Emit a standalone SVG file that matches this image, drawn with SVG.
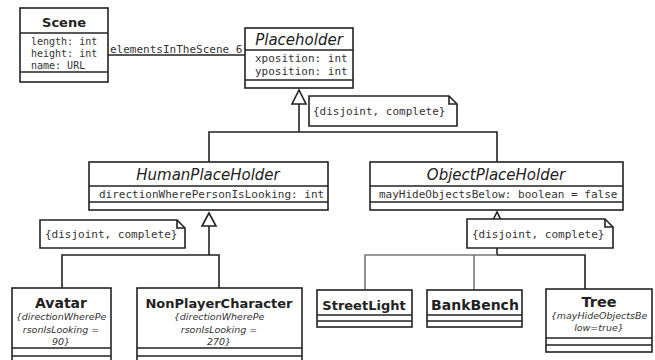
<svg xmlns="http://www.w3.org/2000/svg" width="655" height="360" viewBox="0 0 655 360">
<style>
.box{fill:#fff;stroke:#222;stroke-width:1.6}
.ln{fill:none;stroke:#222;stroke-width:1.6}
.lg{fill:none;stroke:#777;stroke-width:1.6}
.tri{fill:#fff;stroke:#222;stroke-width:1.6}
.name{font-family:"DejaVu Sans",sans-serif;font-weight:bold;font-size:13px;fill:#222;text-anchor:middle}
.abs{font-family:"DejaVu Sans",sans-serif;font-style:italic;font-size:15px;fill:#222;text-anchor:middle}
.attr{font-family:"DejaVu Sans Mono",monospace;font-size:11px;fill:#333}
.sattr{font-family:"DejaVu Sans Mono",monospace;font-size:10px;fill:#333}
.con{font-family:"DejaVu Sans",sans-serif;font-style:italic;font-size:9.5px;fill:#333;text-anchor:middle}
</style>
<rect width="655" height="360" fill="#fff"/>
<g id="connectors">
  <line class="ln" x1="108" y1="55" x2="245" y2="55"/>
  <text class="attr" x="110" y="53">elementsInTheScene 6</text>
  <polyline class="ln" points="299,104 299,132"/>
  <polyline class="ln" points="209,162 209,132 497,132 497,162"/>
  <polygon class="tri" points="299,90 292,104 306,104"/>
  <polyline class="ln" points="209,226 209,255"/>
  <polyline class="ln" points="62,288 62,255 219,255 219,288"/>
  <polygon class="tri" points="209,213 202,226 216,226"/>
  <polygon class="tri" points="497,212 490,226 504,226"/>
  <polyline class="ln" points="497,248 497,255"/>
  <polyline class="lg" points="365,290 365,255 497,255"/>
  <polyline class="lg" points="474,290 474,255"/>
  <polyline class="ln" points="497,255 585,255 585,289"/>
</g>
<g id="note1">
  <path class="box" d="M309,96 H449 L457,104 V126 H309 Z"/>
  <path class="ln" d="M449,96 V104 H457"/>
  <text class="attr" x="313" y="115">{disjoint, complete}</text>
</g>
<g id="note2">
  <path class="box" d="M40,220 H177 L185,228 V248 H40 Z"/>
  <path class="ln" d="M177,220 V228 H185"/>
  <text class="attr" x="45" y="238">{disjoint, complete}</text>
</g>
<g id="note3">
  <path class="box" d="M467,219 H605 L613,227 V248 H467 Z"/>
  <path class="ln" d="M605,219 V227 H613"/>
  <text class="attr" x="472" y="238">{disjoint, complete}</text>
</g>
<g id="Scene">
  <rect class="box" x="20" y="8" width="88" height="74"/>
  <line class="ln" x1="20" y1="33" x2="108" y2="33"/>
  <line class="ln" x1="20" y1="72" x2="108" y2="72"/>
  <text class="name" x="64" y="27">Scene</text>
  <text class="sattr" x="31" y="45">length: int</text>
  <text class="sattr" x="31" y="57">height: int</text>
  <text class="sattr" x="31" y="69">name: URL</text>
</g>
<g id="Placeholder">
  <rect class="box" x="245" y="28" width="108" height="60"/>
  <line class="ln" x1="245" y1="50" x2="353" y2="50"/>
  <line class="ln" x1="245" y1="80" x2="353" y2="80"/>
  <text class="abs" x="299" y="45">Placeholder</text>
  <text class="attr" x="255" y="62">xposition: int</text>
  <text class="attr" x="255" y="75">yposition: int</text>
</g>
<g id="HumanPlaceHolder">
  <rect class="box" x="89" y="162" width="239" height="48"/>
  <line class="ln" x1="89" y1="186" x2="328" y2="186"/>
  <line class="ln" x1="89" y1="202" x2="328" y2="202"/>
  <text class="abs" x="208" y="180">HumanPlaceHolder</text>
  <text class="attr" x="99" y="198">directionWherePersonIsLooking: int</text>
</g>
<g id="ObjectPlaceHolder">
  <rect class="box" x="370" y="162" width="253" height="48"/>
  <line class="ln" x1="370" y1="186" x2="623" y2="186"/>
  <line class="ln" x1="370" y1="202" x2="623" y2="202"/>
  <text class="abs" x="496" y="180">ObjectPlaceHolder</text>
  <text class="attr" x="379" y="198">mayHideObjectsBelow: boolean = false</text>
</g>
<g id="Avatar">
  <rect class="box" x="12" y="288" width="99" height="90"/>
  <line class="ln" x1="12" y1="348" x2="111" y2="348"/>
  <line class="ln" x1="12" y1="356" x2="111" y2="356"/>
  <text class="name" style="font-size:14px" x="61" y="308">Avatar</text>
  <text class="con" x="61" y="320">{directionWherePe</text>
  <text class="con" x="61" y="333">rsonIsLooking =</text>
  <text class="con" x="61" y="345">90}</text>
</g>
<g id="NonPlayerCharacter">
  <rect class="box" x="137" y="288" width="165" height="90"/>
  <line class="ln" x1="137" y1="348" x2="302" y2="348"/>
  <line class="ln" x1="137" y1="356" x2="302" y2="356"/>
  <text class="name" x="219" y="308">NonPlayerCharacter</text>
  <text class="con" x="219" y="320">{directionWherePe</text>
  <text class="con" x="219" y="333">rsonIsLooking =</text>
  <text class="con" x="219" y="345">270}</text>
</g>
<g id="StreetLight">
  <rect class="box" x="317" y="290" width="95" height="37"/>
  <line class="ln" x1="317" y1="315" x2="412" y2="315"/>
  <line class="ln" x1="317" y1="321" x2="412" y2="321"/>
  <text class="name" x="364" y="310">StreetLight</text>
</g>
<g id="BankBench">
  <rect class="box" x="427" y="290" width="95" height="37"/>
  <line class="ln" x1="427" y1="315" x2="522" y2="315"/>
  <line class="ln" x1="427" y1="321" x2="522" y2="321"/>
  <text class="name" style="font-size:14px" x="475" y="310">BankBench</text>
</g>
<g id="Tree">
  <rect class="box" x="546" y="289" width="106" height="63"/>
  <line class="ln" x1="546" y1="338" x2="652" y2="338"/>
  <line class="ln" x1="546" y1="345" x2="652" y2="345"/>
  <text class="name" style="font-size:14.5px" x="599" y="307">Tree</text>
  <text class="con" x="599" y="319">{mayHideObjectsBe</text>
  <text class="con" x="599" y="331">low=true}</text>
</g>
</svg>
